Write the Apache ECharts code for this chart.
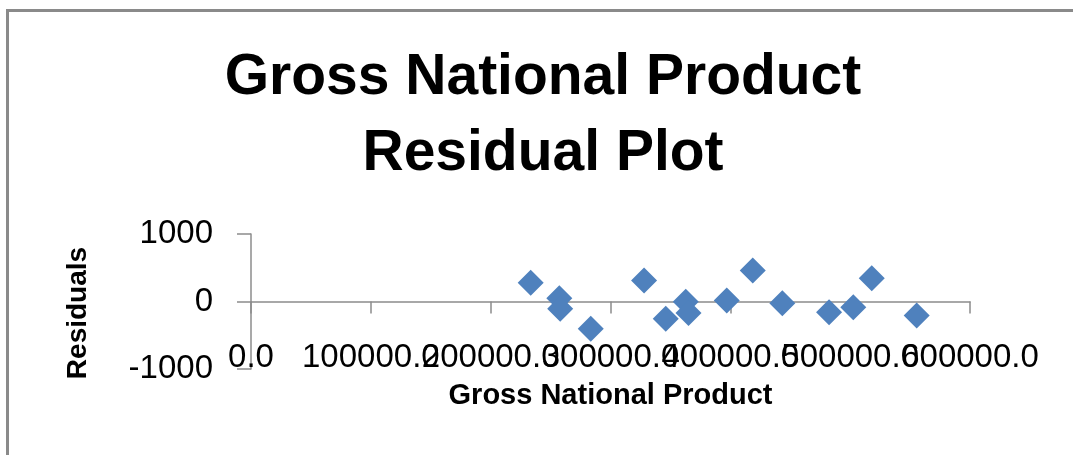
<!DOCTYPE html>
<html>
<head>
<meta charset="utf-8">
<title>Gross National Product Residual Plot</title>
<script src="https://cdn.jsdelivr.net/npm/echarts@6/dist/echarts.min.js"></script>
<style>
  html, body { margin: 0; padding: 0; background: #ffffff; }
  #chart { width: 1073px; height: 455px; }
</style>
</head>
<body>
<div id="chart"></div>
<script>
// Gross national product (x) against regression residuals (y)
const gnp = [233400, 257300, 258000, 283500, 328000, 346100, 362800, 365100,
             397000, 418700, 443400, 482400, 502600, 518000, 555500];
const residuals = [277, 49, -108, -404, 311, -256, -5, -170,
                   15, 459, -25, -159, -84, 345, -207];

const xTickValues = [0, 100000, 200000, 300000, 400000, 500000, 600000];
const xTickLabels = ['0.0', '100000.0', '200000.0', '300000.0', '400000.0', '500000.0', '600000.0'];
const yTickValues = [-1000, 0, 1000];
const yTickLabels = ['-1000', '0', '1000'];

const FONT = 'Liberation Sans';
const AXIS_GREY = '#8c8c8c';

const points = gnp.map((g, i) => [g, residuals[i]]);

// Tick labels are split over two x axes sharing one scale, so that the
// overlapping labels next to the last tick are all kept on screen.
const SECOND_AXIS_TICKS = [500000];
const labelFor = (v, onSecond) => {
  const i = xTickValues.indexOf(v);
  if (i < 0) return '';
  return (SECOND_AXIS_TICKS.includes(v) === onSecond) ? xTickLabels[i] : '';
};

const xLabelStyle = {
  margin: -28,
  fontFamily: FONT,
  fontSize: 33,
  color: '#000000',
  hideOverlap: false
};

const chart = echarts.init(document.getElementById('chart'), null, { renderer: 'canvas' });

chart.setOption({
  backgroundColor: '#ffffff',
  animation: false,
  title: {
    text: 'Gross National Product\nResidual Plot',
    left: 543,
    top: 40,
    textAlign: 'center',
    padding: 0,
    textStyle: {
      fontFamily: FONT,
      fontWeight: 'bold',
      fontSize: 57,
      lineHeight: 76,
      color: '#000000'
    }
  },
  graphic: [{
    type: 'rect',
    shape: { x: 7.5, y: 10.5, width: 1200, height: 600 },
    style: { fill: 'none', stroke: '#8a8a8a', lineWidth: 3 },
    silent: true
  }],
  grid: {
    left: 251, right: 103, top: 234, bottom: 86,
    containLabel: false,
    outerBoundsMode: 'none'
  },
  xAxis: [{
    type: 'value',
    min: 0,
    max: 600000,
    interval: 100000,
    name: 'Gross National Product',
    nameLocation: 'middle',
    nameGap: 12,
    nameMoveOverlap: false,
    nameTextStyle: { fontFamily: FONT, fontWeight: 'bold', fontSize: 29, color: '#000000' },
    axisLine: { show: true, onZero: true, lineStyle: { color: AXIS_GREY, width: 1.5 } },
    axisTick: { show: true, length: 12, lineStyle: { color: AXIS_GREY, width: 1.5 } },
    axisLabel: Object.assign({
      showMinLabel: true,
      showMaxLabel: true,
      formatter: v => labelFor(v, false)
    }, xLabelStyle),
    splitLine: { show: false }
  }, {
    type: 'value',
    gridIndex: 0,
    position: 'bottom',
    min: 0,
    max: 600000,
    interval: 100000,
    axisLine: { show: false, onZero: false },
    axisTick: { show: false },
    axisLabel: Object.assign({
      formatter: v => labelFor(v, true)
    }, xLabelStyle),
    splitLine: { show: false }
  }],
  yAxis: {
    type: 'value',
    min: -1000,
    max: 1000,
    interval: 1000,
    name: 'Residuals',
    nameLocation: 'middle',
    nameGap: 159,
    nameMoveOverlap: false,
    nameTextStyle: { fontFamily: FONT, fontWeight: 'bold', fontSize: 28, color: '#000000', padding: [0, 23, 0, 0] },
    axisLine: { show: true, onZero: false, lineStyle: { color: AXIS_GREY, width: 1.5 } },
    axisTick: { show: true, length: 14, lineStyle: { color: AXIS_GREY, width: 1.5 } },
    axisLabel: {
      margin: 38,
      fontFamily: FONT,
      fontSize: 33,
      color: '#000000',
      formatter: v => {
        const i = yTickValues.indexOf(v);
        return i >= 0 ? yTickLabels[i] : '';
      }
    },
    splitLine: { show: false }
  },
  series: [{
    type: 'scatter',
    xAxisIndex: 0,
    yAxisIndex: 0,
    data: points,
    symbol: 'diamond',
    symbolSize: 26,
    itemStyle: { color: '#4f81bd', opacity: 1 },
    clip: false
  }]
});
</script>
</body>
</html>
